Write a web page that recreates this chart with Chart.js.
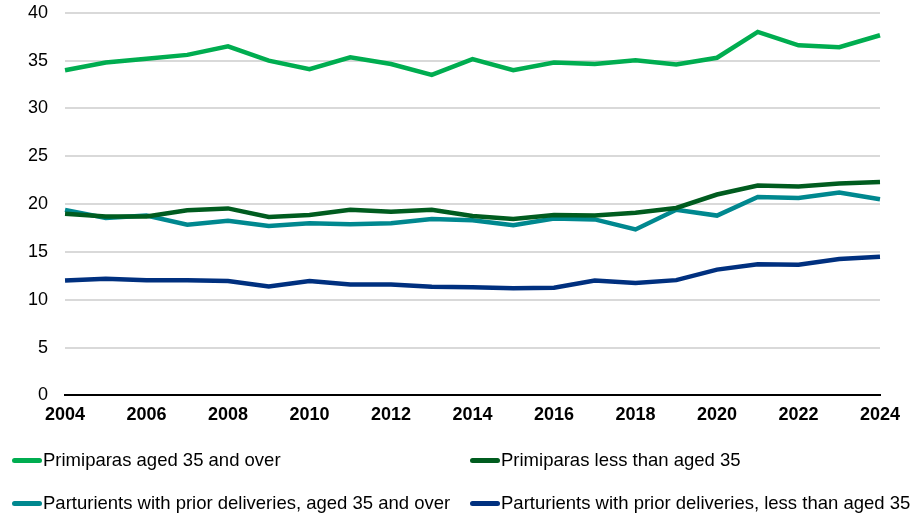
<!DOCTYPE html>
<html>
<head>
<meta charset="utf-8">
<script src="https://cdn.jsdelivr.net/npm/chart.js@4"></script>
<style>
  body { margin: 0; background: #fff; }
  #wrap { position: relative; width: 920px; height: 525px; overflow: hidden; }
  canvas { display: block; position: absolute; left: 0; top: -15px; }
  #legend { position: absolute; left: 12px; top: 447px; width: 908px;
    display: grid; grid-template-columns: 458px 450px; row-gap: 17px;
    font-family: "Liberation Sans", Arial, sans-serif; font-size: 18.5px; color: #000; }
  .item { display: flex; align-items: center; height: 26px; white-space: nowrap; }
  .swatch { width: 30px; height: 5px; border-radius: 3px; margin-right: 1px; }
</style>
</head>
<body>
<div id="wrap">
  <canvas id="chart" width="920" height="540"></canvas>
  <div id="legend"></div>
</div>
<script>
const years = ["2004","2005","2006","2007","2008","2009","2010","2011","2012","2013","2014",
  "2015","2016","2017","2018","2019","2020","2021","2022","2023","2024"];

const primOver35 = [34.0, 34.8, 35.2, 35.6, 36.5, 35.0, 34.1, 35.35, 34.65, 33.5, 35.15,
  34.0, 34.8, 34.65, 35.05, 34.6, 35.3, 38.0, 36.6, 36.4, 37.65];
const primUnder35 = [19.0, 18.7, 18.7, 19.35, 19.55, 18.65, 18.85, 19.4, 19.2, 19.4, 18.75,
  18.45, 18.85, 18.8, 19.1, 19.6, 21.0, 21.95, 21.85, 22.15, 22.3];
const priorOver35 = [19.4, 18.55, 18.8, 17.85, 18.25, 17.7, 18.0, 17.9, 18.0, 18.45, 18.3,
  17.8, 18.5, 18.4, 17.35, 19.4, 18.8, 20.75, 20.65, 21.2, 20.5];
const priorUnder35 = [12.0, 12.2, 12.05, 12.05, 11.95, 11.4, 11.95, 11.6, 11.6, 11.35, 11.3,
  11.2, 11.25, 12.0, 11.75, 12.05, 13.15, 13.7, 13.65, 14.25, 14.5];

const yTicks = [0, 5, 10, 15, 20, 25, 30, 35, 40];

const FONT = "'Liberation Sans', Arial, sans-serif";

function line(label, data, color) {
  return {
    label: label,
    data: data,
    borderColor: color,
    backgroundColor: color,
    borderWidth: 4.5,
    pointRadius: 0,
    tension: 0,
    fill: false
  };
}

const ctx = document.getElementById("chart");
const chart = new Chart(ctx, {
  type: "line",
  data: {
    labels: years,
    datasets: [
      line("Primiparas aged 35 and over", primOver35, "#00AD50"),
      line("Primiparas less than aged 35", primUnder35, "#005C1F"),
      line("Parturients with prior deliveries, aged 35 and over", priorOver35, "#00888F"),
      line("Parturients with prior deliveries, less than aged 35", priorUnder35, "#00307F")
    ]
  },
  options: {
    responsive: false,
    animation: false,
    layout: { padding: { left: 11, right: 40, top: 4, bottom: 90 } },
    plugins: { legend: { display: false }, tooltip: { enabled: false } },
    scales: {
      x: {
        offset: false,
        grid: { display: false, drawTicks: false },
        border: { display: true, color: "#000", width: 2 },
        ticks: {
          autoSkip: false,
          maxRotation: 0,
          padding: 9,
          color: "#000",
          font: { family: FONT, size: 18, weight: "bold" },
          callback: function (v, i) { return i % 2 === 0 ? years[i] : ""; }
        }
      },
      y: {
        min: 0,
        max: 40,
        afterBuildTicks: function (axis) { axis.ticks = yTicks.map(v => ({ value: v })); },
        grid: {
          drawTicks: false,
          color: c => c.tick && c.tick.value === 0 ? "#000" : "#D9D9D9",
          lineWidth: 2
        },
        border: { display: false },
        ticks: {
          padding: 17,
          color: "#000",
          font: { family: FONT, size: 18 }
        }
      }
    }
  }
});

// legend from the datasets, two columns like the original
const legend = document.getElementById("legend");
chart.data.datasets.forEach(ds => {
  const item = document.createElement("div");
  item.className = "item";
  const sw = document.createElement("span");
  sw.className = "swatch";
  sw.style.background = ds.borderColor;
  const txt = document.createElement("span");
  txt.textContent = ds.label;
  item.appendChild(sw);
  item.appendChild(txt);
  legend.appendChild(item);
});
</script>
</body>
</html>
